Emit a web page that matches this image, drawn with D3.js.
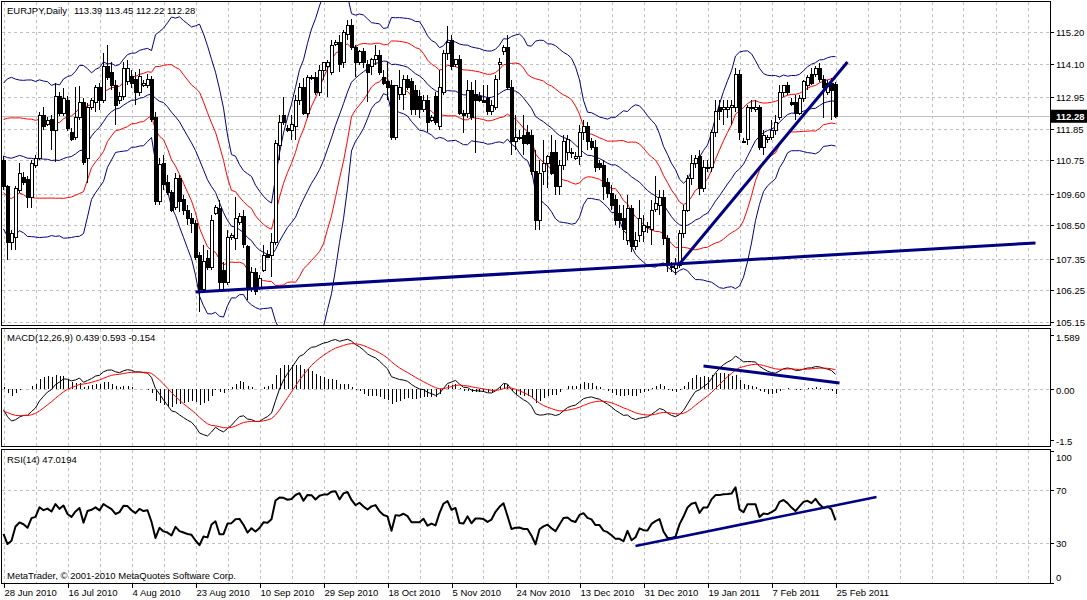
<!DOCTYPE html>
<html>
<head>
<meta charset="utf-8">
<script src="https://d3js.org/d3.v7.min.js"></script>
<title>EURJPY Daily</title>
<style>
  body { margin: 0; background: #fff; }
  text { font-family: "Liberation Sans", Arial, sans-serif; font-size: 9.5px; fill: #000; }
</style>
</head>
<body>
<div id="chart"></div>
<script>
// daily bars 28 Jun 2010 .. 25 Feb 2011 (six bars a week, Sunday included)
var opens = [110.76,109.83,107.92,108.09,109.69,110.17,110.10,109.48,110.59,110.83,
 112.29,112.01,112.18,111.80,112.95,112.39,112.84,111.73,111.53,112.22,
 112.77,110.83,112.60,112.77,113.26,112.84,113.99,113.81,113.36,112.81,
 112.95,113.47,113.67,113.54,113.12,113.36,113.36,113.54,112.25,109.31,
 110.66,110.00,109.65,109.13,110.14,109.38,109.03,108.75,108.58,107.47,
 106.26,107.36,107.05,108.92,109.10,106.95,106.53,108.09,108.06,108.61,
 108.79,107.75,106.26,106.88,106.32,106.95,107.50,107.47,107.89,111.28,
 112.32,111.87,111.80,111.91,112.84,113.26,112.39,113.64,113.61,113.12,
 113.88,113.99,113.81,114.78,114.82,114.13,115.10,115.44,114.65,114.13,
 114.51,114.06,113.99,114.23,114.40,113.64,113.47,113.36,111.56,113.02,
 113.02,113.54,113.47,113.19,112.95,112.50,112.84,112.15,112.95,111.91,
 113.12,114.47,114.92,114.06,114.26,112.39,112.39,113.19,113.02,112.95,
 112.84,112.91,112.43,112.60,114.06,114.51,114.68,113.29,111.42,111.53,
 111.63,111.70,111.63,110.35,108.68,110.35,110.66,111.01,111.01,109.83,
 110.59,111.01,111.01,110.83,110.87,111.70,111.91,111.39,111.21,110.66,
 110.59,109.97,109.62,109.38,108.92,108.75,107.99,109.10,107.75,108.16,
 108.27,108.41,108.34,109.06,109.20,109.45,108.06,107.09,107.02,107.12,
 108.23,109.03,110.14,110.66,110.87,109.79,110.49,110.52,111.70,112.60,
 112.50,112.53,112.57,112.57,113.71,111.42,111.46,112.57,112.53,112.57,
 111.21,111.46,111.56,111.80,112.25,113.09,113.36,112.77,112.74,112.39,
 112.91,113.36,113.71,113.71,113.95,113.54,113.12,113.40,113.39];
var highs = [110.90,109.90,108.34,109.86,110.66,110.35,110.21,110.76,110.94,112.43,
 112.60,112.25,112.32,113.43,113.12,113.26,112.98,111.87,113.29,113.33,
 112.91,112.74,112.91,113.36,113.43,114.47,114.75,114.16,113.54,113.12,
 114.16,114.23,113.88,113.81,113.92,113.54,113.74,113.67,112.43,110.83,
 110.94,110.24,109.72,110.31,110.24,109.55,109.20,108.92,108.68,107.57,
 107.82,107.64,108.86,109.20,109.38,107.23,108.34,108.23,109.48,108.92,
 109.03,107.82,107.05,107.02,106.78,107.82,107.64,108.23,111.46,112.32,
 112.95,111.98,112.32,113.02,113.43,113.61,113.71,113.71,113.81,114.06,
 114.16,114.23,114.92,114.92,115.10,115.27,115.62,115.65,114.75,114.58,
 114.65,114.23,114.30,114.75,114.58,113.88,114.16,113.54,113.36,113.88,
 113.71,113.71,113.61,113.36,113.19,113.02,113.02,112.32,113.12,113.88,
 114.58,115.41,115.10,114.23,114.40,112.50,113.54,113.47,113.54,113.12,
 113.36,113.36,112.84,113.71,114.30,114.75,115.10,113.54,112.32,111.80,
 112.32,111.98,111.80,111.11,110.76,111.46,110.94,111.63,111.46,110.76,
 111.63,111.63,111.18,111.04,111.98,112.15,112.08,111.53,111.46,110.76,
 110.76,110.14,109.90,109.55,109.20,109.20,109.55,109.20,108.27,109.38,
 108.86,108.61,109.38,110.21,109.72,109.72,108.16,107.23,107.36,108.34,
 109.20,110.24,110.94,110.94,111.11,110.76,110.76,111.80,112.84,112.84,
 112.84,112.84,112.84,113.95,113.88,111.53,112.67,112.84,112.84,112.67,
 111.80,111.63,112.15,112.32,113.36,113.36,113.47,112.91,113.02,113.02,
 113.54,113.71,113.95,114.02,114.13,113.71,113.54,113.61,113.45];
var lows = [109.72,107.30,107.64,107.64,109.62,109.90,109.10,109.10,110.49,110.76,
 111.80,111.94,111.11,110.69,112.29,112.29,111.77,111.42,111.46,112.15,
 110.59,109.97,112.50,112.43,112.50,112.74,113.54,113.19,111.98,112.70,
 112.84,113.36,113.26,112.67,112.98,113.29,113.26,112.08,109.20,109.20,
 109.72,109.55,108.96,109.03,108.96,108.86,108.51,108.23,107.30,105.49,
 106.19,106.95,106.95,108.86,106.26,106.26,106.43,107.99,107.64,108.51,
 107.71,105.91,106.19,106.08,106.26,106.88,107.36,106.71,107.82,110.76,
 111.98,111.73,111.46,111.46,112.67,112.32,112.22,113.54,113.02,112.98,
 113.54,112.95,113.71,114.72,113.81,113.95,114.92,114.58,113.64,114.06,
 113.95,112.77,113.71,114.06,113.71,113.36,112.84,111.46,111.46,112.84,
 112.50,113.19,112.32,112.32,112.22,112.43,111.73,112.08,111.98,111.80,
 113.02,114.23,113.88,113.99,112.32,111.70,112.22,112.15,111.01,112.77,
 112.74,112.32,112.32,112.50,113.54,114.40,113.19,110.94,111.11,111.46,
 110.94,111.28,110.24,108.34,108.34,109.90,109.79,110.24,109.55,109.55,
 110.42,110.76,110.83,110.76,110.59,111.46,111.11,111.11,110.35,110.42,
 109.38,109.45,109.03,108.51,108.41,107.99,107.82,107.57,107.64,107.92,
 107.92,108.23,107.82,108.96,108.86,107.82,106.88,106.88,106.78,107.02,
 108.06,108.96,109.90,110.49,109.55,109.65,110.35,110.35,111.56,112.15,
 111.98,112.22,111.98,112.43,111.46,111.35,111.28,112.43,112.43,111.11,
 110.94,111.35,111.46,111.63,112.15,112.95,113.02,112.63,112.15,112.32,
 112.77,113.19,113.36,113.64,113.47,112.22,113.02,112.15,112.22];
var closes = [109.83,107.89,108.20,109.76,110.28,110.00,109.45,110.66,110.83,112.29,
 111.91,112.15,111.80,112.95,112.39,112.91,111.87,111.46,112.25,112.77,
 110.69,112.60,112.81,113.26,112.84,113.99,113.64,113.33,112.67,112.95,
 113.95,113.92,113.43,113.09,113.67,113.43,113.54,112.18,109.31,110.62,
 109.90,109.65,109.03,110.14,109.31,109.03,108.75,108.58,107.40,106.26,
 107.23,107.05,108.68,109.13,106.53,106.53,108.09,108.16,108.75,108.82,
 107.82,106.26,106.88,106.19,106.67,107.47,107.40,107.89,111.35,112.08,
 112.05,111.80,111.98,112.84,113.26,112.39,113.64,113.61,113.12,113.88,
 114.13,114.16,114.72,114.82,114.06,115.17,115.44,114.68,114.13,114.51,
 114.13,113.81,114.23,114.40,113.81,113.43,113.29,111.53,113.36,113.29,
 113.54,113.26,112.50,112.50,112.50,112.84,112.05,112.25,112.05,113.26,
 114.47,114.85,113.99,114.23,112.39,112.32,113.19,112.25,112.84,112.84,
 112.77,112.43,112.67,113.54,114.16,114.65,113.29,111.39,111.53,111.56,
 111.35,111.35,110.35,108.68,110.31,110.66,110.87,110.31,109.83,110.59,
 111.39,111.46,111.04,110.87,111.70,111.91,111.39,111.21,110.52,110.52,
 109.83,109.62,109.20,108.68,108.68,108.34,109.10,107.75,107.99,108.75,
 108.51,108.47,109.03,109.27,109.45,108.06,107.12,107.09,107.19,108.23,
 109.03,110.14,110.66,110.83,109.79,110.52,110.52,111.70,112.43,112.43,
 112.57,112.60,112.67,113.71,111.73,111.42,112.57,112.57,112.57,111.21,
 111.63,111.56,111.80,112.08,113.09,113.36,113.09,112.70,112.39,112.91,
 113.47,113.61,113.43,113.95,113.54,113.26,113.40,113.19,112.28];
// closes before 28 Jun 2010, only used to warm up the indicators
var warmup = [125.5,125.3,125.9,125.2,124.4,125.2,
 125.3,125.9,123.0,123.1,124.4,124.8,
 124.9,124.3,121.5,119.6,115.4,113.5,
 115.5,120.0,118.2,118.6,117.9,115.0,
 114.5,114.4,112.6,113.8,111.4,112.5,
 112.3,111.3,110.4,110.0,111.8,111.5,
 111.0,111.4,110.6,111.4,111.8,109.0,
 109.0,108.6,108.8,109.3,110.8,110.6,
 110.7,111.5,111.9,112.2,112.3,112.6,
 112.7,112.6,111.6,111.0,110.9,110.5,
 110.6];

var dateLabels = ["28 Jun 2010","16 Jul 2010","4 Aug 2010","23 Aug 2010","10 Sep 2010","29 Sep 2010",
  "18 Oct 2010","5 Nov 2010","24 Nov 2010","13 Dec 2010","31 Dec 2010","19 Jan 2011","7 Feb 2011","25 Feb 2011"];
var dateBars = [0,16,32,48,64,80,96,112,128,144,160,176,192,208];
var priceTicks = [115.20,114.10,112.95,111.85,110.75,109.60,108.50,107.35,106.25,105.15];
var macdTicks = [1.589,0,-1.5];
var rsiTicks = [100,70,30,0];
var lastPrice = 112.28;

// hand drawn trend lines: [bar, value, bar, value]
var priceLines = [[48,106.19,258,107.89],[168.75,107.12,211,114.16]];
var macdLines = [[175,0.68,209,0.18]];
var rsiLines = [[158,27.9,218.25,64.9]];

var W = 1087, H = 600, R = 1050;
var svg = d3.select("#chart").append("svg").attr("width", W).attr("height", H);

var x = d3.scaleLinear().domain([0, 208]).range([3.5, 835.5]);
var yP = d3.scaleLinear().domain([105.15, 115.20]).range([322, 32]);
var yM = d3.scaleLinear().domain([-1.5, 1.589]).range([440, 335]);
var yR = d3.scaleLinear().domain([0, 100]).range([583, 450.5]);

var panels = [
  {id: "pMain", top: 1.5, bottom: 325.5},
  {id: "pMacd", top: 328.5, bottom: 446.5},
  {id: "pRsi", top: 449.5, bottom: 583.5}
];
var defs = svg.append("defs");
panels.forEach(function(p) {
  defs.append("clipPath").attr("id", p.id).append("rect")
    .attr("x", 2).attr("y", p.top + 0.5).attr("width", R - 2.5).attr("height", p.bottom - p.top - 1);
});

// indicators
var all = warmup.concat(closes);
var n0 = warmup.length;
var bars = d3.range(closes.length);

var bb = bars.map(function(k) {
  var i = k + n0;
  var win = all.slice(i - 19, i + 1);
  var m = d3.mean(win);
  var sd = Math.sqrt(d3.mean(win, function(v) { return (v - m) * (v - m); }));
  return {m: m, sd: sd};
});

function ema(arr, p) {
  var a = 2 / (p + 1), out = [], prev;
  arr.forEach(function(v, i) {
    prev = i === 0 ? v : prev + a * (v - prev);
    out.push(prev);
  });
  return out;
}
var e12 = ema(all, 12), e26 = ema(all, 26);
var macdAll = e12.map(function(v, i) { return v - e26[i]; });
var sigAll = ema(macdAll, 9);

var rsiAll = [50], ag = 0, al = 0;
for (var i = 1; i < all.length; i++) {
  var ch = all[i] - all[i - 1];
  var g = ch > 0 ? ch : 0, l = ch < 0 ? -ch : 0;
  if (i <= 14) { ag += g / 14; al += l / 14; }
  else { ag = (ag * 13 + g) / 14; al = (al * 13 + l) / 14; }
  rsiAll.push(al === 0 ? 100 : 100 - 100 / (1 + ag / al));
}

// grid
var grid = svg.append("g").attr("stroke", "#c0c0c0").attr("stroke-dasharray", "3,3")
  .attr("shape-rendering", "crispEdges");
var vBars = d3.range(0, 260, 8);
panels.forEach(function(p) {
  grid.selectAll(null).data(vBars).enter().append("line")
    .attr("x1", function(d) { return Math.round(x(d)) + 0.5; })
    .attr("x2", function(d) { return Math.round(x(d)) + 0.5; })
    .attr("y1", p.top).attr("y2", p.bottom);
});
grid.selectAll(null).data(priceTicks).enter().append("line")
  .attr("x1", 2).attr("x2", R)
  .attr("y1", function(d) { return Math.round(yP(d)) + 0.5; })
  .attr("y2", function(d) { return Math.round(yP(d)) + 0.5; });
grid.append("line").attr("x1", 2).attr("x2", R)
  .attr("y1", Math.round(yM(0)) + 0.5).attr("y2", Math.round(yM(0)) + 0.5);
grid.selectAll(null).data([70, 30]).enter().append("line")
  .attr("x1", 2).attr("x2", R)
  .attr("y1", function(d) { return Math.round(yR(d)) + 0.5; })
  .attr("y2", function(d) { return Math.round(yR(d)) + 0.5; });

// last price line
svg.append("line").attr("x1", 2).attr("x2", R)
  .attr("y1", Math.round(yP(lastPrice)) + 0.5).attr("y2", Math.round(yP(lastPrice)) + 0.5)
  .attr("stroke", "#c0c0c0").attr("shape-rendering", "crispEdges");

// main panel
var gMain = svg.append("g").attr("clip-path", "url(#pMain)");
var bandDefs = [[0, "#000080"], [1, "#ff0000"], [-1, "#ff0000"], [2, "#000080"], [-2, "#000080"]];
bandDefs.forEach(function(b) {
  gMain.append("path").datum(bars)
    .attr("fill", "none").attr("stroke", b[1]).attr("stroke-width", 1)
    .attr("d", d3.line()
      .x(function(k) { return x(k); })
      .y(function(k) { return yP(bb[k].m + b[0] * bb[k].sd); }));
});

var candles = gMain.selectAll(".bar").data(bars).enter().append("g").attr("class", "bar")
  .attr("shape-rendering", "crispEdges");
candles.append("line")
  .attr("x1", function(k) { return x(k); }).attr("x2", function(k) { return x(k); })
  .attr("y1", function(k) { return yP(highs[k]); })
  .attr("y2", function(k) { return yP(lows[k]); })
  .attr("stroke", "#000");
candles.append("rect")
  .attr("x", function(k) { return x(k) - 1.5; })
  .attr("width", 3)
  .attr("y", function(k) { return yP(Math.max(opens[k], closes[k])); })
  .attr("height", function(k) { return Math.max(1, Math.abs(yP(opens[k]) - yP(closes[k]))); })
  .attr("fill", function(k) { return closes[k] >= opens[k] ? "#fff" : "#000"; })
  .attr("stroke", "#000");

gMain.selectAll(".tl").data(priceLines).enter().append("line").attr("class", "tl")
  .attr("x1", function(d) { return x(d[0]); }).attr("y1", function(d) { return yP(d[1]); })
  .attr("x2", function(d) { return x(d[2]); }).attr("y2", function(d) { return yP(d[3]); })
  .attr("stroke", "#000080").attr("stroke-width", 3);

// MACD panel
var gMacd = svg.append("g").attr("clip-path", "url(#pMacd)");
gMacd.selectAll(".h").data(bars).enter().append("line").attr("class", "h")
  .attr("x1", function(k) { return Math.round(x(k)) + 0.5; })
  .attr("x2", function(k) { return Math.round(x(k)) + 0.5; })
  .attr("y1", yM(0))
  .attr("y2", function(k) { return yM(macdAll[k + n0] - sigAll[k + n0]); })
  .attr("stroke", "#000").attr("shape-rendering", "crispEdges");
gMacd.append("path").datum(bars).attr("fill", "none").attr("stroke", "#000")
  .attr("d", d3.line().x(function(k) { return x(k); }).y(function(k) { return yM(macdAll[k + n0]); }));
gMacd.append("path").datum(bars).attr("fill", "none").attr("stroke", "#ff0000")
  .attr("d", d3.line().x(function(k) { return x(k); }).y(function(k) { return yM(sigAll[k + n0]); }));
gMacd.selectAll(".tl").data(macdLines).enter().append("line").attr("class", "tl")
  .attr("x1", function(d) { return x(d[0]); }).attr("y1", function(d) { return yM(d[1]); })
  .attr("x2", function(d) { return x(d[2]); }).attr("y2", function(d) { return yM(d[3]); })
  .attr("stroke", "#000080").attr("stroke-width", 3);

// RSI panel
var gRsi = svg.append("g").attr("clip-path", "url(#pRsi)");
gRsi.append("path").datum(bars).attr("fill", "none").attr("stroke", "#000").attr("stroke-width", 2)
  .attr("stroke-linejoin", "round")
  .attr("d", d3.line().x(function(k) { return x(k); }).y(function(k) { return yR(rsiAll[k + n0]); }));
gRsi.selectAll(".tl").data(rsiLines).enter().append("line").attr("class", "tl")
  .attr("x1", function(d) { return x(d[0]); }).attr("y1", function(d) { return yR(d[1]); })
  .attr("x2", function(d) { return x(d[2]); }).attr("y2", function(d) { return yR(d[3]); })
  .attr("stroke", "#000080").attr("stroke-width", 2.5);

// frames
panels.forEach(function(p) {
  svg.append("rect").attr("x", 1.5).attr("y", p.top).attr("width", R - 1.5).attr("height", p.bottom - p.top)
    .attr("fill", "none").attr("stroke", "#000").attr("shape-rendering", "crispEdges");
});

// right axis labels
var axisG = svg.append("g");
function rightLabels(ticks, scale, fmt, nudge) {
  ticks.forEach(function(t, j) {
    var yy = Math.round(scale(t)) + 0.5;
    axisG.append("line").attr("x1", R).attr("x2", R + 4).attr("y1", yy).attr("y2", yy)
      .attr("stroke", "#000").attr("shape-rendering", "crispEdges");
    axisG.append("text").attr("x", R + 6).attr("y", yy + (nudge ? nudge(t) : 0)).attr("dy", "0.35em")
      .text(fmt(t));
  });
}
rightLabels(priceTicks, yP, function(t) { return t.toFixed(2); });
rightLabels(macdTicks, yM, function(t) { return t === 0 ? "0.00" : String(t); },
  function(t) { return t > 1 ? 2 : 1; });
rightLabels(rsiTicks, yR, String, function(t) { return t === 100 ? 6 : (t === 0 ? -6 : 0); });

// last price box
var ly = yP(lastPrice);
axisG.append("rect").attr("x", R + 1).attr("y", ly - 6.5).attr("width", W - R - 1).attr("height", 13)
  .attr("fill", "#000");
axisG.append("text").attr("x", R + 6).attr("y", ly).attr("dy", "0.35em")
  .style("fill", "#fff").style("font-weight", "bold").text(lastPrice.toFixed(2));

// date axis
var dG = svg.append("g");
dG.selectAll("line").data(dateBars).enter().append("line")
  .attr("x1", function(d) { return Math.round(x(d)) + 0.5; })
  .attr("x2", function(d) { return Math.round(x(d)) + 0.5; })
  .attr("y1", 583.5).attr("y2", 588).attr("stroke", "#000");
dG.selectAll("text").data(dateBars).enter().append("text")
  .attr("x", function(d) { return x(d) + 1; }).attr("y", 596)
  .text(function(d, j) { return dateLabels[j]; });

// captions
svg.append("text").attr("x", 7).attr("y", 14).text("EURJPY,Daily");
svg.append("text").attr("x", 74).attr("y", 14).text("113.39 113.45 112.22 112.28");
svg.append("text").attr("x", 7).attr("y", 341).text("MACD(12,26,9) 0.439 0.593 -0.154");
svg.append("text").attr("x", 7).attr("y", 463).text("RSI(14) 47.0194");
svg.append("text").attr("x", 7).attr("y", 579).text("MetaTrader, \u00a9 2001-2010 MetaQuotes Software Corp.");
</script>
</body>
</html>
